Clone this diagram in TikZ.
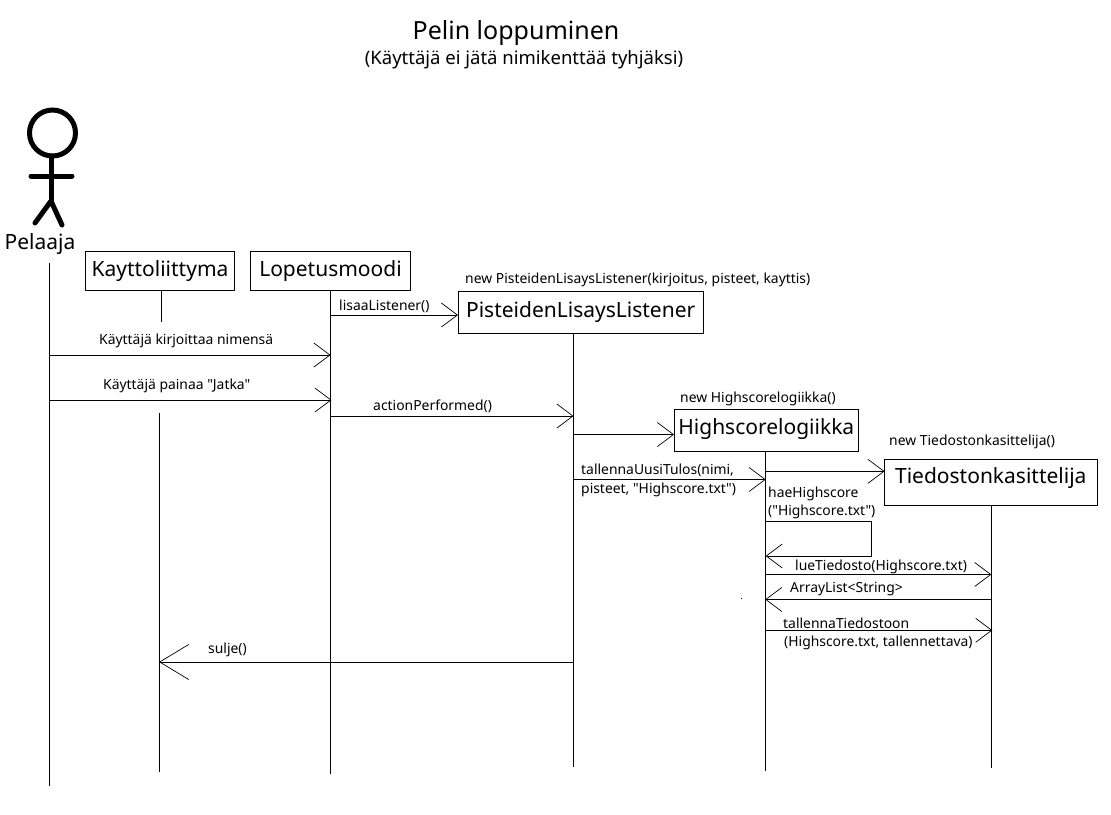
\documentclass[tikz,border=0pt]{standalone}
\usepackage{fontspec}
\setmainfont{Noto Sans}[Ligatures=TeXOff]
\usetikzlibrary{arrows.meta}

\tikzset{
  >={Straight Barb[length=16pt,width=24pt,line width=0.7pt]},
  classbox/.style={draw,line width=1pt,fill=white,font=\fontsize{21}{25}\selectfont,inner sep=0pt,minimum height=39pt,text height=20pt,text depth=#1},
  msg/.style={font=\fontsize{13.9}{18.5}\selectfont,inner sep=0pt,align=left,yshift=-1.5pt},
  life/.style={line width=1pt},
  call/.style={->,line width=1pt},
  limb/.style={line width=5pt,line cap=round}
}

\begin{document}
\begin{tikzpicture}[x=1pt,y=-1pt]
\useasboundingbox (0,0) rectangle (1111,814);

% title
\node[font=\fontsize{25}{30}\selectfont,inner sep=0pt] (title) at (516,33) {Pelin loppuminen};
\node[font=\fontsize{18.5}{23}\selectfont,inner sep=0pt] (subtitle) at (524,60) {(Käyttäjä ei jätä nimikenttää tyhjäksi)};

% actor
\draw[line width=5pt] (52.5,133) circle[radius=23];
\draw[limb] (51,156) -- (51,201);
\draw[limb] (31,176) -- (72,176);
\draw[limb] (35,223) -- (51,201) -- (62,225);
\node[font=\fontsize{21}{25}\selectfont,inner sep=0pt] (pelaaja) at (40,244) {Pelaaja};

% objects
\node[classbox=8pt,minimum width=149pt] (ui) at (160,270.8) {Kayttoliittyma};
\node[classbox=8pt,minimum width=160.5pt] (lopetus) at (330.5,270.8) {Lopetusmoodi};
\node[classbox=10pt,minimum width=245pt,minimum height=42pt] (listener) at (580.7,312.8) {PisteidenLisaysListener};
\node[classbox=12pt,minimum width=184pt,minimum height=42pt] (logiikka) at (766.3,430.3) {Highscorelogiikka};
\node[classbox=18pt,minimum width=213pt,minimum height=46pt] (kasittelija) at (990.8,482.5) {Tiedostonkasittelija};

% lifelines
\coordinate (pelaajatop) at (49,263);
\coordinate (pelaajaend) at (49,786);
\coordinate (uiend) at (161,322);
\coordinate (uitop) at (159,413);
\coordinate (uilow) at (159,772);
\coordinate (lopetusend) at (330.5,774);
\coordinate (listenerend) at (573.5,767);
\coordinate (logiikkaend) at (765.7,771);
\coordinate (kasittelijaend) at (991.3,768);
\draw[life] (pelaajatop) -- (pelaajaend);
\draw[life] (ui.south -| uiend) -- (uiend);
\draw[life] (uitop) -- (uilow);
\draw[life] (lopetus.south) -- (lopetusend);
\draw[life] (listener.south -| listenerend) -- (listenerend);
\draw[life] (logiikka.south -| logiikkaend) -- (logiikkaend);
\draw[life] (kasittelija.south -| kasittelijaend) -- (kasittelijaend);

% creation labels
\node[msg,anchor=west] (newlistener) at (465,278) {new PisteidenLisaysListener(kirjoitus, pisteet, kayttis)};
\node[msg,anchor=west] (newlogiikka) at (680,397.5) {new Highscorelogiikka()};
\node[msg,anchor=west] (newkasittelija) at (889,440) {new Tiedostonkasittelija()};

% messages
\coordinate (lisaas) at (330.5,315);
\coordinate (lisaae) at (458,315);
\draw[call] (lisaas) -- (lisaae);
\node[msg,anchor=west] (lisaa) at (339,305) {lisaaListener()};

\coordinate (nimis) at (49,355);
\coordinate (nimie) at (330.5,355);
\draw[call] (nimis) -- (nimie);
\node[msg,anchor=west] (nimi) at (99,339) {Käyttäjä kirjoittaa nimensä};

\coordinate (jatkas) at (49,400);
\coordinate (jatkae) at (331.5,400);
\draw[call] (jatkas) -- (jatkae);
\node[msg,anchor=west] (jatka) at (103,384) {Käyttäjä painaa "Jatka"};

\coordinate (actions) at (330.5,416);
\coordinate (actione) at (573.5,416);
\draw[call] (actions) -- (actione);
\node[msg,anchor=west] (action) at (373,405) {actionPerformed()};

\coordinate (luos) at (573.5,434.5);
\coordinate (luoe) at (674,434.5);
\draw[call] (luos) -- (luoe);

\coordinate (tulosS) at (573.5,479.5);
\coordinate (tulosE) at (765.7,479.5);
\draw[call] (tulosS) -- (tulosE);
\node[msg,anchor=west] (tulos) at (581,479) {tallennaUusiTulos(nimi,\\pisteet, "Highscore.txt")};

\coordinate (luo2s) at (765.7,471.3);
\coordinate (luo2e) at (884.5,471.3);
\draw[call] (luo2s) -- (luo2e);

\coordinate (haes) at (765.7,521);
\coordinate (haea) at (871,521);
\coordinate (haeb) at (871,556);
\coordinate (haee) at (765.7,556);
\draw[call] (haes) -- (haea) -- (haeb) -- (haee);
\node[msg,anchor=west] (hae) at (768,501.5) {haeHighscore\\("Highscore.txt")};

\coordinate (lues) at (765.7,574.5);
\coordinate (luee) at (991.3,574.5);
\draw[call] (lues) -- (luee);
\node[msg,anchor=west] (lue) at (795,565) {lueTiedosto(Highscore.txt)};

\coordinate (lists) at (991.3,599.5);
\coordinate (liste) at (765.2,599.5);
\draw[call] (lists) -- (liste);
\node[msg,anchor=west] (list) at (790,588) {ArrayList<String>};

\coordinate (talls) at (765.7,630.3);
\coordinate (talle) at (992.3,630.3);
\draw[call] (talls) -- (talle);
\node[msg,anchor=west] (tall1) at (783,622) {tallennaTiedostoon};
\node[msg,anchor=west] (tall2) at (784,641) {(Highscore.txt, tallennettava)};

\coordinate (suljes) at (573.5,662);
\coordinate (suljee) at (159,662);
\draw[line width=1pt,-{Straight Barb[length=29pt,width=35pt,line width=0.7pt]}] (suljes) -- (suljee);
\node[msg,anchor=west] (sulje) at (208,648) {sulje()};

% stray speck
\fill (741,598) rectangle (742.2,599.2);
\end{tikzpicture}
\end{document}
